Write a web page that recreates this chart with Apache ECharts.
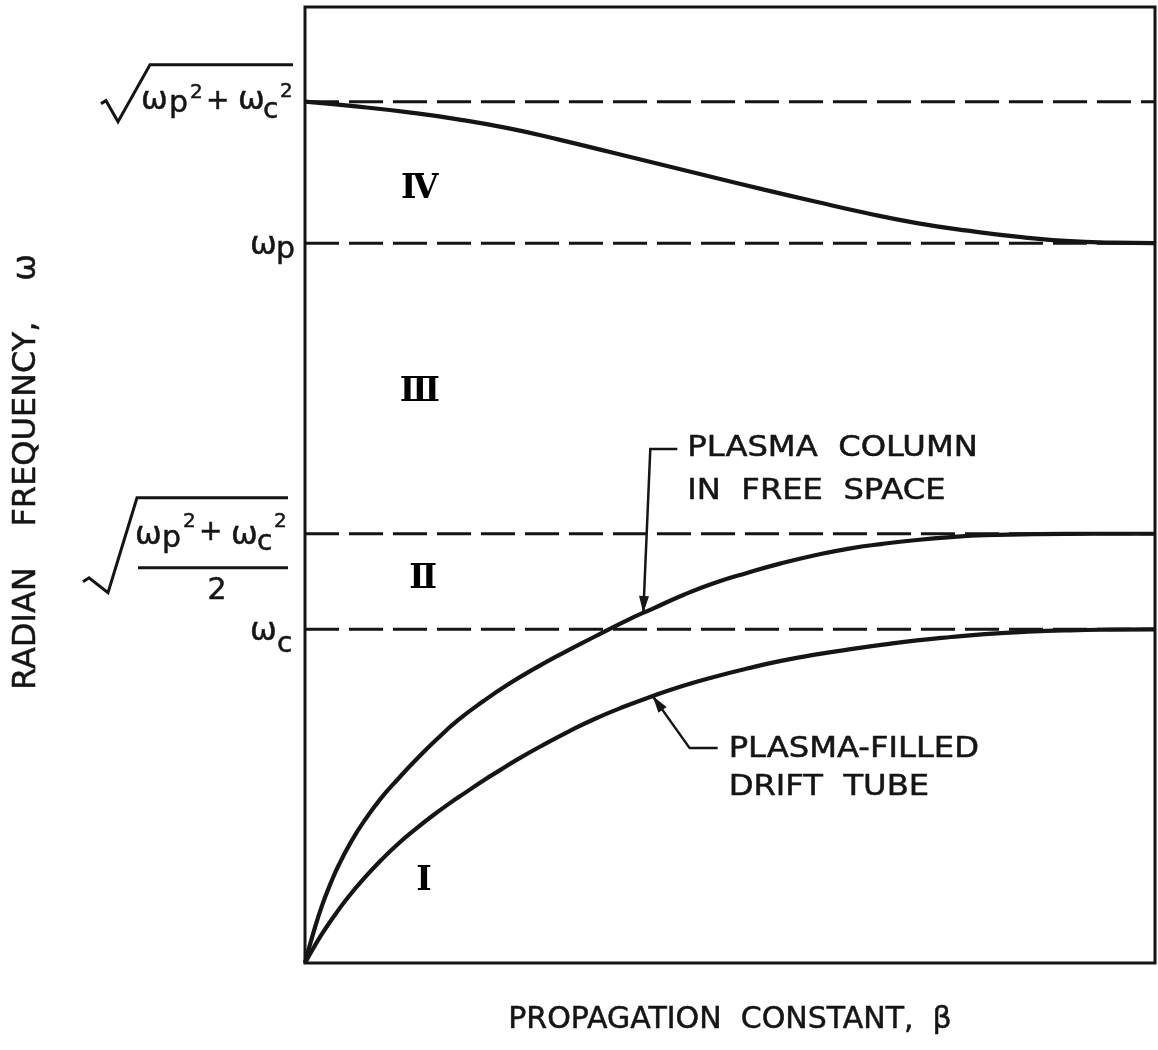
<!DOCTYPE html>
<html>
<head>
<meta charset="utf-8">
<script src="https://cdn.jsdelivr.net/npm/echarts@6/dist/echarts.min.js"></script>
<style>
  html, body { margin: 0; padding: 0; background: #fff; }
  #main { width: 1158px; height: 1050px; }
</style>
</head>
<body>
<div id="main"></div>
<script>
// Dispersion diagram: radian frequency vs. propagation constant (normalised units, 0-100)

// Plasma column in free space
const freeSpaceBeta  = [0, 1, 2, 3, 4, 5.5, 7, 9, 11, 13, 15.5, 18, 21, 24, 27, 30.5, 34, 38, 41, 44.5, 48, 52, 56, 60, 64, 68, 72, 76, 80, 86, 93, 100];
const freeSpaceOmega = [0, 3.2, 6.0, 8.3, 10.3, 12.8, 14.9, 17.3, 19.3, 21.2, 23.4, 25.4, 27.4, 29.2, 30.8, 32.5, 34.1, 35.9, 37.1, 38.5, 39.7, 40.8, 41.8, 42.65, 43.35, 43.85, 44.25, 44.55, 44.75, 44.87, 44.9, 44.9];

// Plasma-filled drift tube
const driftTubeBeta  = [0, 1, 2, 3.5, 5, 7, 9, 11, 13, 15, 17, 19, 21, 23, 25, 28, 31, 34, 37.5, 41, 44.5, 48, 52, 56, 60, 64, 68, 72, 76, 80, 85, 90, 95, 100];
const driftTubeOmega = [0, 1.57, 3.05, 5.0, 6.8, 8.9, 10.8, 12.5, 14.0, 15.4, 16.7, 17.9, 19.1, 20.2, 21.3, 22.8, 24.2, 25.5, 26.8, 27.95, 29.0, 29.9, 30.8, 31.6, 32.25, 32.8, 33.3, 33.75, 34.1, 34.4, 34.65, 34.8, 34.87, 34.9];

// Upper branch between omega_p and sqrt(wp^2 + wc^2)
const upperBranchBeta  = [0, 6, 12, 18, 24, 30, 36, 42, 48, 54, 60, 66, 72, 78, 84, 90, 95, 100];
const upperBranchOmega = [90.1, 89.6, 89.0, 88.25, 87.3, 86.1, 84.8, 83.5, 82.2, 80.9, 79.65, 78.45, 77.4, 76.6, 75.95, 75.5, 75.35, 75.3];

// Characteristic frequencies (dashed levels)
const levelKeys   = ['hybrid', 'plasma', 'surface', 'cyclotron'];
const levelValues = [90.1, 75.3, 44.9, 34.9];

// Region numerals
const regionNames = ['Ⅳ', 'Ⅲ', 'Ⅱ', 'Ⅰ'];
const regionBeta  = [13.5, 13.5, 13.9, 14.0];
const regionOmega = [80.9, 59.7, 40.1, 8.5];

// Annotation text and where each arrow meets its curve
const freeSpaceNote = ['PLASMA  COLUMN', 'IN  FREE  SPACE'];
const driftTubeNote = ['PLASMA-FILLED', 'DRIFT  TUBE'];
const freeSpaceArrowBeta = 39.8;
const driftTubeArrowBeta = 40.9;

const INK = '#151515';
const FONT = 'DejaVu Sans';

const zip = (xs, ys) => xs.map((x, i) => [x, ys[i]]);
// value of a sampled curve at beta (straight-line between samples)
function curveAt(xs, ys, b) {
  for (let i = 1; i < xs.length; i++) {
    if (b <= xs[i]) {
      const t = (b - xs[i - 1]) / (xs[i] - xs[i - 1]);
      return ys[i - 1] + t * (ys[i] - ys[i - 1]);
    }
  }
  return ys[ys.length - 1];
}

const chart = echarts.init(document.getElementById('main'), null, { renderer: 'canvas' });

const curveStyle = { color: INK, width: 4.2 };

const series = [];
levelValues.forEach((v, i) => {
  series.push({
    name: levelKeys[i],
    type: 'line',
    data: [[0, v], [100, v]],
    symbol: 'none',
    silent: true,
    lineStyle: { color: INK, width: 3, type: [34, 10] },
    z: 2
  });
});
[
  ['free space', freeSpaceBeta, freeSpaceOmega],
  ['drift tube', driftTubeBeta, driftTubeOmega],
  ['upper branch', upperBranchBeta, upperBranchOmega]
].forEach(([name, xs, ys]) => {
  series.push({
    name: name, type: 'line', data: zip(xs, ys),
    symbol: 'none', smooth: 0.5, lineStyle: curveStyle, z: 3
  });
});
series.push({
  name: 'regions', type: 'scatter', symbolSize: 0, silent: true,
  itemStyle: { opacity: 1 },
  data: regionNames.map((n, i) => ({ name: n, value: [regionBeta[i], regionOmega[i]] })),
  label: {
    show: true, position: 'inside', formatter: p => p.name, opacity: 1,
    fontFamily: 'DejaVu Serif', fontSize: 33, fontWeight: 'bold', color: '#000'
  }
});

chart.setOption({
  animation: false,
  backgroundColor: '#fff',
  grid: {
    left: 305, right: 3, top: 7, bottom: 87,
    show: true, borderColor: INK, borderWidth: 3,
    outerBoundsMode: 'none', containLabel: false
  },
  xAxis: {
    type: 'value', min: 0, max: 100,
    axisLine: { show: false }, axisTick: { show: false },
    axisLabel: { show: false }, splitLine: { show: false },
    name: 'PROPAGATION  CONSTANT,  β',
    nameLocation: 'middle', nameGap: 42, nameMoveOverlap: false,
    nameTextStyle: { fontFamily: FONT, fontSize: 30, color: INK, verticalAlign: 'top',
      textBorderColor: INK, textBorderWidth: 0.5 }
  },
  yAxis: {
    type: 'value', min: 0, max: 100,
    axisLine: { show: false }, axisTick: { show: false },
    axisLabel: { show: false }, splitLine: { show: false },
    name: 'RADIAN    FREQUENCY,    ω',
    nameLocation: 'middle', nameRotate: 90, nameGap: 262, nameMoveOverlap: false,
    nameTextStyle: { fontFamily: FONT, fontSize: 32, color: INK, padding: [0, 0, 0, 26],
      textBorderColor: INK, textBorderWidth: 0.5 }
  },
  series: series
});

// ---- text and leaders drawn on top of the grid ----
const px = (x, y) => chart.convertToPixel({ gridIndex: 0 }, [x, y]);

function txt(x, y, s, size, extra) {
  return Object.assign({
    type: 'text', x: x, y: y, silent: true, z: 10,
    style: { text: s, fontSize: size, fontFamily: FONT, fill: INK, align: 'left', verticalAlign: 'middle',
      stroke: INK, lineWidth: 0.5 }
  }, extra || {});
}
function poly(points, w) {
  return { type: 'polyline', silent: true, z: 10, shape: { points: points }, style: { stroke: INK, lineWidth: w || 3, fill: null, lineJoin: 'miter' } };
}
function arrowHead(tail, tip, len, half) {
  const dx = tip[0] - tail[0], dy = tip[1] - tail[1];
  const L = Math.hypot(dx, dy), ux = dx / L, uy = dy / L;
  const bx = tip[0] - ux * len, by = tip[1] - uy * len;
  return {
    type: 'polygon', silent: true, z: 11,
    shape: { points: [tip, [bx - uy * half, by + ux * half], [bx + uy * half, by - ux * half]] },
    style: { fill: INK }
  };
}

const g = [];
const axisX = px(0, 0)[0] - 10;
const lvY = levelValues.map(v => px(0, v)[1]);

// sqrt(wp^2 + wc^2)
(function () {
  const y = lvY[0], a = axisX;
  g.push(poly([[a - 194, y + 2], [a - 189, y - 1], [a - 177, y + 20], [a - 145, y - 37], [a - 2, y - 37]], 3));
  g.push(txt(a - 154, y - 1, 'ω', 32));
  g.push(txt(a - 126, y + 3, 'p', 30));
  g.push(txt(a - 105, y - 9, '2', 20));
  g.push(txt(a - 89, y, '+', 28));
  g.push(txt(a - 57, y - 1, 'ω', 32));
  g.push(txt(a - 32, y + 9, 'c', 28));
  g.push(txt(a - 15, y - 10, '2', 20));
})();

// omega_p
(function () {
  const y = lvY[1], a = axisX;
  g.push(txt(a - 45, y + 3, 'ω', 32));
  g.push(txt(a - 19, y + 7, 'p', 30));
})();

// sqrt((wp^2 + wc^2) / 2)
(function () {
  const y = lvY[2], a = axisX;
  g.push(poly([[a - 212, y + 48], [a - 206, y + 44], [a - 187, y + 59], [a - 158, y - 36], [a - 7, y - 36]], 3));
  g.push(txt(a - 160, y + 2, 'ω', 32));
  g.push(txt(a - 133, y + 5, 'p', 30));
  g.push(txt(a - 112, y - 12, '2', 20));
  g.push(txt(a - 96, y - 1, '+', 28));
  g.push(txt(a - 64, y + 2, 'ω', 32));
  g.push(txt(a - 38, y + 9, 'c', 28));
  g.push(txt(a - 21, y - 12, '2', 20));
  g.push(poly([[a - 157, y + 34], [a - 7, y + 34]], 3));
  g.push(txt(a - 78, y + 57, '2', 30, { style: { text: '2', fontSize: 30, fontFamily: FONT, fill: INK, align: 'center', verticalAlign: 'middle', stroke: INK, lineWidth: 0.5 } }));
})();

// omega_c
(function () {
  const y = lvY[3], a = axisX;
  g.push(txt(a - 45, y + 2, 'ω', 32));
  g.push(txt(a - 18, y + 15, 'c', 28));
})();

// Leader for the free-space curve
(function () {
  const tip = px(freeSpaceArrowBeta, curveAt(freeSpaceBeta, freeSpaceOmega, freeSpaceArrowBeta));
  const elbow = [tip[0] + 7, tip[1] - 164];
  const end = [tip[0] + 34, tip[1] - 164];
  g.push(poly([end, elbow, tip], 2.5));
  g.push(arrowHead(elbow, tip, 17, 5));
  g.push(txt(tip[0] + 44, tip[1] - 164, freeSpaceNote[0], 28, { scaleX: 1.15 }));
  g.push(txt(tip[0] + 44, tip[1] - 121, freeSpaceNote[1], 28, { scaleX: 1.15 }));
})();

// Leader for the drift-tube curve
(function () {
  const tip = px(driftTubeArrowBeta, curveAt(driftTubeBeta, driftTubeOmega, driftTubeArrowBeta));
  const elbow = [tip[0] + 37, tip[1] + 52];
  const end = [tip[0] + 65, tip[1] + 52];
  g.push(poly([end, elbow, tip], 2.5));
  g.push(arrowHead(elbow, tip, 17, 5));
  g.push(txt(tip[0] + 76, tip[1] + 54, driftTubeNote[0], 28, { scaleX: 1.15 }));
  g.push(txt(tip[0] + 76, tip[1] + 92, driftTubeNote[1], 28, { scaleX: 1.15 }));
})();

chart.setOption({ graphic: g });
</script>
</body>
</html>
